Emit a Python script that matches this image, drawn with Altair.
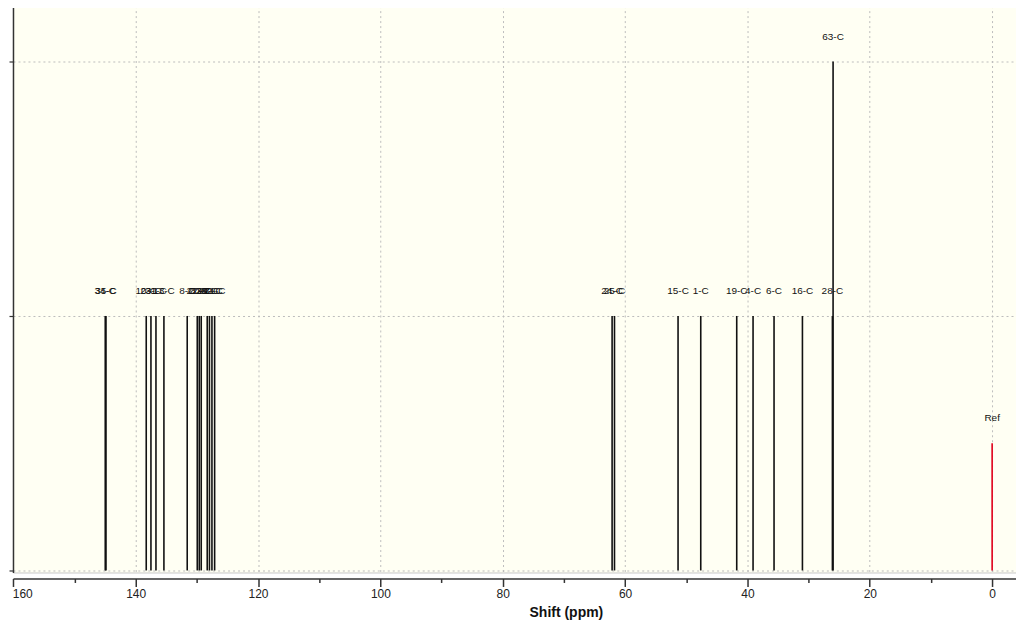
import altair as alt
import pandas as pd

labels = ["34-C", "35-C", "10-C", "23-C", "31-C", "13-C", "8-C", "22-C", "20-C", "33-C",
          "29-C", "27-C", "32-C", "21-C", "24-C", "25-C", "15-C", "1-C", "19-C", "4-C",
          "6-C", "16-C", "28-C", "63-C", "Ref"]
shifts = [144.97, 144.85, 138.27, 137.50, 136.68, 135.38, 131.57, 129.93, 129.60, 129.28,
          128.30, 127.94, 127.53, 127.09, 62.12, 61.73, 51.34, 47.63, 41.75, 39.08,
          35.65, 31.01, 26.11, 26.00, 0.0]
heights = [1, 1, 1, 1, 1, 1, 1, 1, 1, 1,
           1, 1, 1, 1, 1, 1, 1, 1, 1, 1,
           1, 1, 1, 2, 0.5]
kinds = ["peak"] * 24 + ["ref"]

x_ticks = list(range(160, -1, -5))
y_ticks = [0, 1, 2]

df = pd.DataFrame({"label": labels, "shift": shifts, "height": heights, "kind": kinds})

xscale = alt.Scale(domain=[160.05, -3.9], nice=False, zero=False)
yscale = alt.Scale(domain=[-0.008, 2.2195], nice=False, zero=False)

color = alt.Color("kind:N", scale=alt.Scale(domain=["peak", "ref"], range=["#111111", "#e0001b"]), legend=None)

xaxis = alt.Axis(
    values=x_ticks,
    title="Shift (ppm)",
    labelExpr="datum.value % 20 == 0 ? datum.label : ''",
    labelOffset=alt.ExprRef("datum.value == 160 ? 9 : 0"),
    grid=True,
    gridDash=[2, 3],
    gridColor="#bdbdbd",
    gridOpacity=alt.ExprRef("datum.value % 20 == 0 ? 1 : 0"),
    tickSize=alt.ExprRef("datum.value % 20 == 0 ? 8 : 4"),
    tickColor="#333333",
    tickWidth=1.5,
    domainColor="#333333",
    domainWidth=1.5,
    offset=6,
    labelFont="Liberation Sans",
    labelFontSize=12,
    labelColor="#222222",
    labelPadding=2,
    labelFlush=False,
    titleFont="Liberation Sans",
    titleFontSize=14,
    titleFontWeight="bold",
    titleColor="#111111",
    titleX=554,
    titleY=34,
    titleBaseline="middle",
    titleAnchor="middle",
)

yaxis = alt.Axis(
    values=y_ticks,
    title=None,
    labels=False,
    grid=True,
    gridDash=[2, 3],
    gridColor="#bdbdbd",
    tickSize=4,
    tickColor="#333333",
    tickWidth=1.2,
    domainColor="#333333",
    domainWidth=1.5,
    offset=0,
)

base = alt.Chart(df)

rules = base.mark_rule(strokeWidth=1.6).encode(
    x=alt.X("shift:Q", scale=xscale, axis=xaxis),
    y=alt.Y("height:Q", scale=yscale, axis=yaxis),
    y2=alt.datum(0),
    color=color,
)

texts = base.mark_text(font="Liberation Sans", fontSize=10, dy=-25, color="#111111").encode(
    x=alt.X("shift:Q", scale=xscale),
    y=alt.Y("height:Q", scale=yscale),
    text="label:N",
)

chart = alt.layer(rules, texts).properties(
    width=1005,
    height=568,
    padding={"left": 0, "top": -3, "right": 0, "bottom": 0},
    background="white",
).configure_view(
    fill="#fffff3",
    stroke="#c8c8c8",
    strokeWidth=1,
)

chart.save("out.html", embed_options={"renderer": "svg", "actions": False})
